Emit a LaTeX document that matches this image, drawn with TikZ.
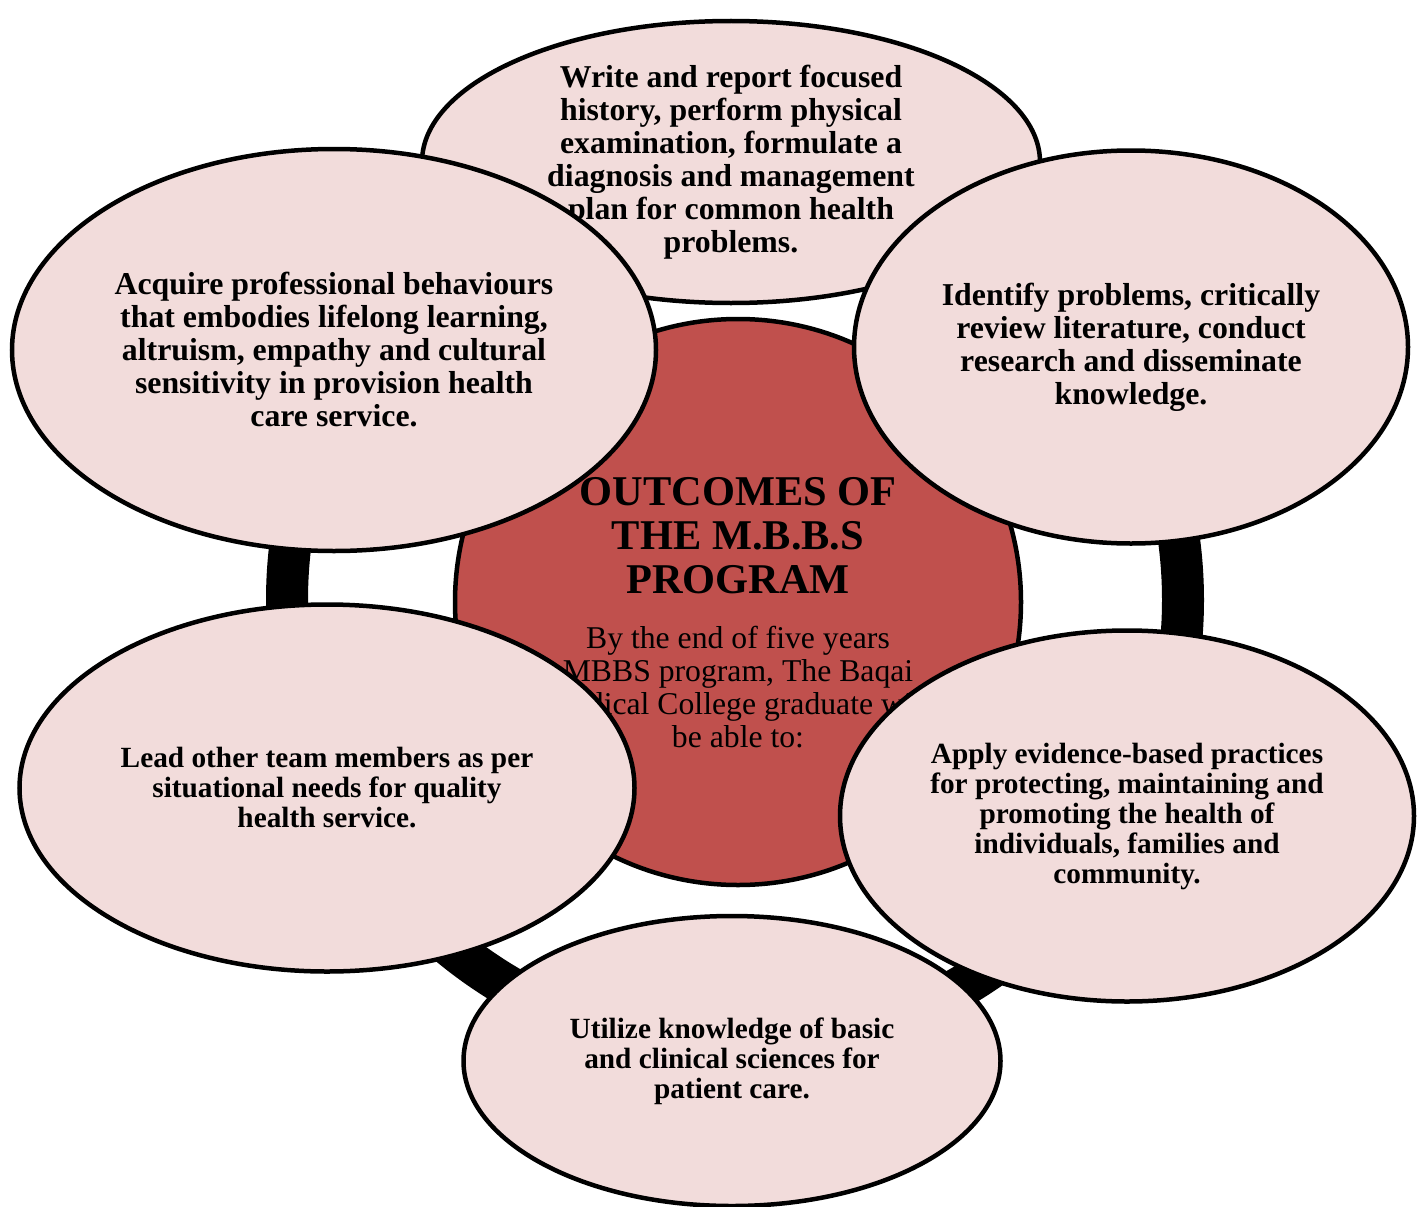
\documentclass[tikz,border=0pt]{standalone}
\usepackage{fontspec}
\setmainfont{Liberation Serif}
\usetikzlibrary{shapes.geometric}
\definecolor{hubred}{HTML}{C0504D}
\definecolor{petalpink}{HTML}{F2DCDB}

\begin{document}
\begin{tikzpicture}[x=1pt, y=-1pt,
    petal/.style={ellipse, draw, line width=4.5pt, fill=petalpink, inner sep=0pt,
        align=center, font=\bfseries\fontsize{31.8}{33}\selectfont},
    smallpetal/.style={petal, font=\bfseries\fontsize{29.3}{30}\selectfont}]
    \useasboundingbox (0,0) rectangle (1419,1207);

    \coordinate (O) at (735,600);

    % ring behind everything
    \draw[line width=42pt] (O) circle (448pt);

    \node[circle, draw, line width=4.5pt, fill=hubred, minimum size=566pt, inner sep=0pt] (hub) at (738,602) {};
    \node[font=\bfseries\fontsize{42.4}{44}\selectfont, align=center] (title) at (738,536)
        {OUTCOMES OF\\THE M.B.B.S\\PROGRAM};
    \node[font=\fontsize{31.7}{33}\selectfont, align=center] (intro) at (738,687)
        {By the end of five years\\MBBS program, The Baqai\\Medical College graduate will\\be able to:};

    \node[petal, minimum width=618pt, minimum height=282pt] (history) at (731,162)
        {Write and report focused\\history, perform physical\\examination, formulate a\\diagnosis and management\\plan for common health\\problems.};
    \node[petal, minimum width=644pt, minimum height=402pt] (behaviour) at (334,350)
        {Acquire professional behaviours\\that embodies lifelong learning,\\altruism, empathy and cultural\\sensitivity in provision health\\care service.};
    \node[petal, minimum width=554pt, minimum height=393pt] (research) at (1131,347)
        {Identify problems, critically\\review literature, conduct\\research and disseminate\\knowledge.};
    \node[smallpetal, minimum width=615pt, minimum height=367pt] (lead) at (327,788)
        {Lead other team members as per\\situational needs for quality\\health service.};
    \node[smallpetal, minimum width=574pt, minimum height=371pt] (evidence) at (1127,816)
        {Apply evidence-based practices\\for protecting, maintaining and\\promoting the health of\\individuals, families and\\community.};
    \node[smallpetal, minimum width=537pt, minimum height=290pt] (sciences) at (732,1061)
        {Utilize knowledge of basic\\and clinical sciences for\\patient care.};
\end{tikzpicture}
\end{document}
